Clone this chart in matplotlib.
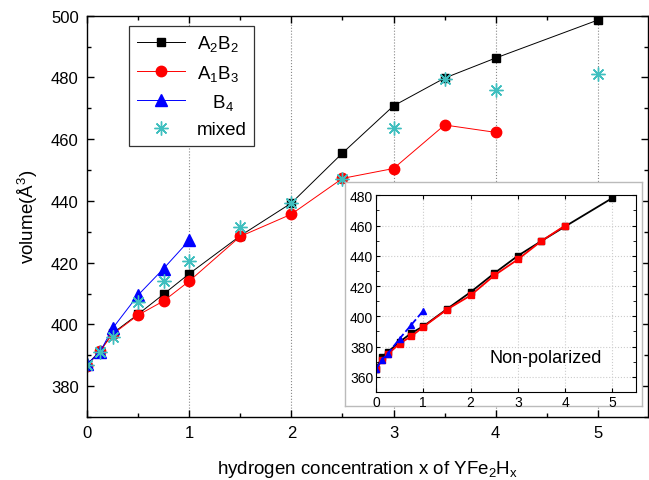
import numpy as np
import matplotlib
matplotlib.use("Agg")
import matplotlib.pyplot as plt
from matplotlib.ticker import MultipleLocator

plt.rcParams['font.family'] = ['Liberation Sans', 'DejaVu Sans']
plt.rcParams['mathtext.fontset'] = 'custom'
plt.rcParams['mathtext.rm'] = 'Liberation Sans'
plt.rcParams['mathtext.it'] = 'Liberation Sans'

# main panel (polarized)
x_a2b2 = [0, 0.125, 0.25, 0.5, 0.75, 1, 1.5, 2, 2.5, 3, 3.5, 4, 5]
v_a2b2 = [387, 391.3, 397.1, 403.3, 409.8, 416.4, 428.7, 439.3, 455.5, 470.8, 479.8, 486.3, 498.6]
x_a1b3 = [0, 0.125, 0.25, 0.5, 0.75, 1, 1.5, 2, 2.5, 3, 3.5, 4]
v_a1b3 = [386.5, 391.3, 396.8, 403.0, 407.6, 414.0, 428.5, 435.7, 447.3, 450.5, 464.6, 462.2]
x_b4 = [0, 0.125, 0.25, 0.5, 0.75, 1]
v_b4 = [387.1, 390.9, 398.7, 409.5, 418.1, 427.2]
x_mix = [0, 0.125, 0.25, 0.5, 0.75, 1, 1.5, 2, 2.5, 3, 3.5, 4, 5]
v_mix = [387, 391, 395.8, 407.1, 414.1, 420.4, 431.4, 439.3, 447, 463.5, 479.5, 476, 481.1]

# inset (non-polarized)
xi_a2b2 = [0, 0.125, 0.25, 0.5, 0.75, 1, 1.5, 2, 2.5, 3, 3.5, 4, 5]
vi_a2b2 = [365.4, 373.1, 376.4, 383.1, 389.0, 393.4, 404.8, 416.0, 428.4, 440.0, 449.8, 459.4, 478.2]
xi_a1b3 = [0, 0.125, 0.25, 0.5, 0.75, 1, 1.5, 2, 2.5, 3, 3.5, 4]
vi_a1b3 = [365.0, 371.0, 375.0, 382.0, 386.9, 393.0, 404.5, 413.8, 427.0, 437.6, 449.8, 460.0]
xi_b4 = [0, 0.125, 0.25, 0.5, 0.75, 1]
vi_b4 = [365.0, 371.3, 375.3, 385.3, 394.5, 403.7]

teal = '#3fbfbf'

fig = plt.figure(figsize=(6.49, 4.81), dpi=100)
ax = fig.add_axes([87/649, 1 - 418/481, 561/649, (418 - 16.7)/481])

for xv in [1, 2, 3, 4, 5]:
    ax.axvline(xv, color='#888888', ls=':', lw=0.8, zorder=0)

ax.plot(x_a2b2, v_a2b2, '-s', color='black', lw=0.7, ms=6, label='A$_2$B$_2$')
ax.plot(x_a1b3, v_a1b3, '-o', color='red', mec='red', lw=0.7, ms=7.5, label='A$_1$B$_3$')
ax.plot(x_b4, v_b4, '-^', color='blue', lw=0.7, ms=8, label='   B$_4$')
ax.plot(x_mix, v_mix, ls='none', marker=(8, 2, 0), color=teal, mec=teal, mew=1.0, ms=10, label='mixed')

ax.set_xlim(0, 5.49)
ax.set_ylim(370, 500)
ax.xaxis.set_major_locator(MultipleLocator(1))
ax.xaxis.set_minor_locator(MultipleLocator(0.5))
ax.yaxis.set_major_locator(MultipleLocator(20))
ax.yaxis.set_minor_locator(MultipleLocator(10))
ax.tick_params(which='both', direction='in', top=True, right=True, labelsize=12)
ax.tick_params(which='major', length=5, width=1, pad=6)
ax.tick_params(which='minor', length=3, width=1)
ax.set_yticks([380, 400, 420, 440, 460, 480, 500])
for s in ax.spines.values():
    s.set_linewidth(1.0)

ax.set_xlabel('hydrogen concentration x of YFe$_2$H$_x$', fontsize=13.5, labelpad=13)
ax.set_ylabel('volume($\\mathrm{\\AA}^3$)', fontsize=13.5, labelpad=8)

leg = ax.legend(loc='upper left', bbox_to_anchor=(0.075, 0.975), borderaxespad=0,
                fontsize=13.5, fancybox=False, edgecolor='#333333', framealpha=1,
                handlelength=2.6, handletextpad=0.6, labelspacing=0.5, borderpad=0.4)
leg.get_frame().set_linewidth(0.9)

# inset frame
frame = fig.add_axes([345/649, 1 - 407/481, 297/649, 224/481])
frame.set_xticks([])
frame.set_yticks([])
for s in frame.spines.values():
    s.set_color('#bbbbbb')
    s.set_linewidth(1.0)
frame.set_facecolor('white')

ins = fig.add_axes([376/649, 1 - 393/481, 260/649, (393 - 196.3)/481])
ins.plot(xi_a2b2, vi_a2b2, '-s', color='black', lw=1.3, ms=4)
ins.plot(xi_a1b3, vi_a1b3, '-s', color='red', lw=1.3, ms=4.5)
ins.plot(xi_b4, vi_b4, '--^', color='blue', lw=1.3, ms=4.5)
ins.set_xlim(0, 5.5)
ins.set_ylim(350, 480)
ins.set_xticks([0, 1, 2, 3, 4, 5])
ins.set_yticks([360, 380, 400, 420, 440, 460, 480])
ins.yaxis.set_minor_locator(MultipleLocator(10))
ins.grid(True, ls=':', color='#cccccc', lw=0.8)
ins.tick_params(which='both', direction='in', top=True, right=True, labelsize=10, pad=2)
ins.tick_params(which='major', length=3)
ins.tick_params(which='minor', length=2)
ins.text(4.78, 373, 'Non-polarized', fontsize=13, ha='right', va='center')

fig.savefig('out.png', dpi=100)
